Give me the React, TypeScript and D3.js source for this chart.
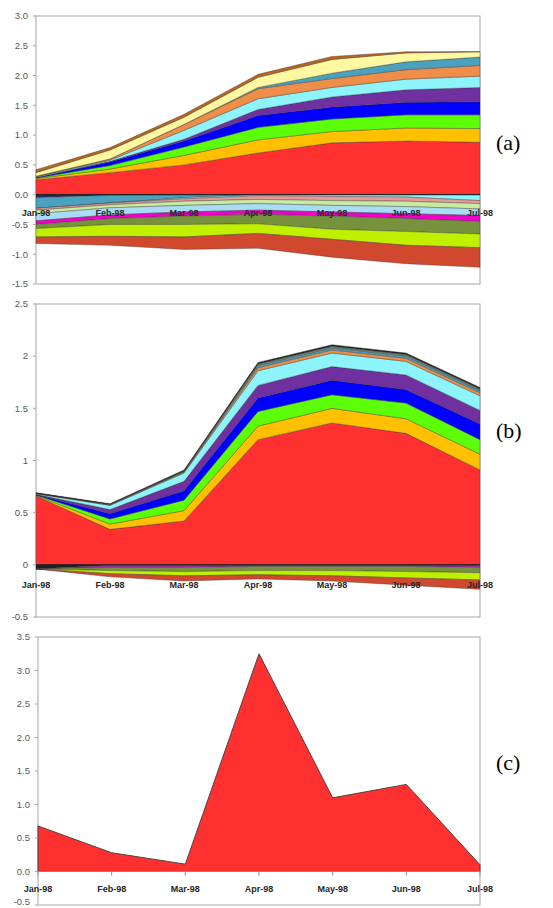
import React from "react";
import * as d3 from "d3";

const months = ["Jan-98", "Feb-98", "Mar-98", "Apr-98", "May-98", "Jun-98", "Jul-98"];

// Panel (a) – positive bands, bottom to top (thickness per month)
const aRed = [0.25, 0.37, 0.5, 0.7, 0.87, 0.9, 0.88];
const aOrange = [0.02, 0.06, 0.16, 0.22, 0.19, 0.22, 0.23];
const aGreen = [0.01, 0.06, 0.14, 0.21, 0.21, 0.22, 0.23];
const aBlue = [0.01, 0.06, 0.1, 0.2, 0.2, 0.21, 0.22];
const aPurple = [0, 0.01, 0.03, 0.1, 0.17, 0.21, 0.24];
const aCyan = [0.01, 0.02, 0.15, 0.18, 0.16, 0.18, 0.19];
const aTan = [0.01, 0.02, 0.1, 0.17, 0.15, 0.16, 0.18];
const aTeal = [0, 0, 0, 0.02, 0.09, 0.13, 0.14];
const aYellow = [0.06, 0.15, 0.12, 0.17, 0.23, 0.15, 0.09];
const aBrown = [0.05, 0.04, 0.05, 0.05, 0.05, 0.02, 0];
// Panel (a) – negative bands, from zero downward
const aNegNavy = [-0.05, -0.01, 0, 0, 0, 0, 0];
const aNegTeal = [-0.18, -0.13, -0.05, 0, 0, 0, 0];
const aNegCyan = [0, 0, -0.02, -0.02, -0.03, -0.04, -0.1];
const aNegSalmon = [-0.03, -0.03, -0.04, -0.06, -0.07, -0.07, -0.05];
const aNegLightGreen = [-0.06, -0.05, -0.07, -0.07, -0.08, -0.09, -0.09];
const aNegLightBlue = [-0.12, -0.12, -0.11, -0.11, -0.11, -0.12, -0.11];
const aNegMagenta = [-0.06, -0.06, -0.07, -0.07, -0.07, -0.08, -0.1];
const aNegOlive = [-0.07, -0.1, -0.14, -0.16, -0.22, -0.22, -0.21];
const aNegLime = [-0.14, -0.2, -0.21, -0.16, -0.17, -0.23, -0.23];
const aNegRust = [-0.11, -0.15, -0.21, -0.25, -0.3, -0.31, -0.33];

// Panel (b)
const bRed = [0.66, 0.34, 0.42, 1.2, 1.36, 1.26, 0.91];
const bOrange = [0.005, 0.05, 0.1, 0.13, 0.14, 0.14, 0.15];
const bGreen = [0.005, 0.05, 0.1, 0.14, 0.13, 0.15, 0.14];
const bBlue = [0.005, 0.05, 0.09, 0.13, 0.14, 0.13, 0.15];
const bPurple = [0.002, 0.04, 0.09, 0.12, 0.13, 0.14, 0.13];
const bCyan = [0.005, 0.04, 0.08, 0.14, 0.13, 0.13, 0.14];
const bTan = [0.003, 0.005, 0.01, 0.03, 0.03, 0.03, 0.03];
const bTeal = [0.002, 0.003, 0.005, 0.02, 0.02, 0.02, 0.02];
const bGray = [0, 0.003, 0.005, 0.015, 0.015, 0.015, 0.015];
const bBlack = [0.005, 0.005, 0.01, 0.015, 0.015, 0.015, 0.015];
const bNegBlack = [-0.04, -0.005, -0.005, -0.005, -0.005, -0.005, -0.005];
const bNegMagenta = [0, -0.02, -0.02, -0.01, -0.01, -0.01, -0.02];
const bNegOlive = [0, -0.03, -0.04, -0.04, -0.04, -0.05, -0.05];
const bNegLime = [0, -0.03, -0.04, -0.04, -0.05, -0.06, -0.07];
const bNegRust = [0, -0.03, -0.05, -0.04, -0.05, -0.07, -0.09];

// Panel (c)
const cValues = [0.68, 0.28, 0.11, 3.25, 1.1, 1.3, 0.1];

const aTicks = [3.0, 2.5, 2.0, 1.5, 1.0, 0.5, 0.0, -0.5, -1.0, -1.5];
const bTicks = [2.5, 2, 1.5, 1, 0.5, 0, -0.5];
const cTicks = [3.5, 3.0, 2.5, 2.0, 1.5, 1.0, 0.5, 0.0, -0.5];

const aSeries = [aRed, aOrange, aGreen, aBlue, aPurple, aCyan, aTan, aTeal, aYellow, aBrown,
  aNegNavy, aNegTeal, aNegCyan, aNegSalmon, aNegLightGreen, aNegLightBlue, aNegMagenta, aNegOlive, aNegLime, aNegRust];
const aColors = ["#FF3030", "#FFC000", "#5CFF08", "#0000FF", "#7030A0", "#8CF4FA", "#EE8E48", "#4AA2BE", "#FFF8A0", "#B8661E",
  "#2E2870", "#4AA2BE", "#8CF4FA", "#E89A9A", "#C8EBA0", "#A8DCF5", "#F000C8", "#76923C", "#C0F000", "#D0482E"];
const bSeries = [bRed, bOrange, bGreen, bBlue, bPurple, bCyan, bTan, bTeal, bGray, bBlack,
  bNegBlack, bNegMagenta, bNegOlive, bNegLime, bNegRust];
const bColors = ["#FF3030", "#FFC000", "#5CFF08", "#0000FF", "#7030A0", "#8CF4FA", "#EE8E48", "#4AA2BE", "#7A8A70", "#202020",
  "#202020", "#A030A0", "#76923C", "#C0F000", "#D0482E"];

type PanelProps = {
  series: number[][];
  colors: string[];
  domain: [number, number];
  top: number;
  bottom: number;
  left: number;
  right: number;
  ticks: number[];
  fmt: (v: number) => string;
  labelOffset: number;
  letter: string;
  letterY: number;
  single?: boolean;
};

function Panel(p: PanelProps) {
  const x = d3.scalePoint<string>().domain(months).range([p.left, p.right]);
  const y = d3.scaleLinear().domain(p.domain).range([p.bottom, p.top]);
  // stack positive series upward and negative series downward, each in series order
  const pos = months.map(() => 0);
  const neg = months.map(() => 0);
  const layers = p.series.map((s) => {
    const negative = d3.sum(s) < 0;
    return s.map((v, j) => {
      if (negative) {
        const a = neg[j];
        neg[j] += v;
        return { m: months[j], y0: a, y1: neg[j] };
      }
      const a = pos[j];
      pos[j] += v;
      return { m: months[j], y0: a, y1: pos[j] };
    });
  });
  const area = d3
    .area<any>()
    .x((d) => x(d.m) as number)
    .y0((d) => y(d.y0))
    .y1((d) => y(d.y1));
  const y0 = y(0);
  return (
    <g>
      <rect x={p.left} y={p.top} width={p.right - p.left} height={p.bottom - p.top} fill="#fff" stroke="#A6A6A6" strokeWidth={1} />
      {layers.map((l, i) => (
        <path key={i} d={area(l) || ""} fill={p.colors[i]} stroke={p.single ? "#3a3a3a" : "#333"} strokeWidth={p.single ? 0.9 : 0.5} strokeOpacity={p.single ? 1 : 0.75} strokeLinejoin="round" />
      ))}
      {!p.single && <line x1={p.left} x2={p.right} y1={y0} y2={y0} stroke="#1a1a1a" strokeWidth={1} />}
      {p.single && (
        <g>
          <line x1={p.left} x2={p.right} y1={y0} y2={y0} stroke="#8c8c8c" strokeWidth={1} />
          {months.map((m) => (
            <line key={m} x1={x(m)} x2={x(m)} y1={y0} y2={y0 + 4} stroke="#8c8c8c" strokeWidth={1} />
          ))}
        </g>
      )}
      {p.ticks.map((t) => (
        <g key={t}>
          <line x1={p.left - 3} x2={p.left} y1={y(t)} y2={y(t)} stroke="#A6A6A6" strokeWidth={1} />
          <text x={p.left - 8} y={Math.min(y(t), 902)} dy="0.35em" textAnchor="end" fontSize={9.5} fill="#595959" fontFamily="Liberation Sans, Arial, sans-serif">
            {p.fmt(t)}
          </text>
        </g>
      ))}
      {months.map((m) => (
        <text key={m} x={x(m)} y={y0 + p.labelOffset} dy="0.35em" textAnchor="middle" fontSize={9} fontWeight="bold" fill="#262626" fontFamily="Liberation Sans, Arial, sans-serif">
          {m}
        </text>
      ))}
      <text x={496} y={p.letterY} fontSize={22} fill="#000" fontFamily="Liberation Serif, Times New Roman, serif">
        {p.letter}
      </text>
    </g>
  );
}

export default function App() {
  return (
    <svg width={553} height={908} style={{ position: "absolute", left: 0, top: 0, background: "#fff" }}>
      <Panel series={aSeries} colors={aColors} domain={[-1.5, 3.0]} top={16} bottom={284} left={36} right={480}
        ticks={aTicks} fmt={(v) => v.toFixed(1)} labelOffset={18} letter="(a)" letterY={150} />
      <Panel series={bSeries} colors={bColors} domain={[-0.5, 2.5]} top={304} bottom={617} left={36} right={480}
        ticks={bTicks} fmt={(v) => String(v)} labelOffset={20} letter="(b)" letterY={438} />
      <Panel series={[cValues]} colors={["#FF3030"]} domain={[-0.5, 3.5]} top={637} bottom={905} left={38} right={480}
        ticks={cTicks} fmt={(v) => v.toFixed(1)} labelOffset={17.5} letter="(c)" letterY={770} single />
    </svg>
  );
}
